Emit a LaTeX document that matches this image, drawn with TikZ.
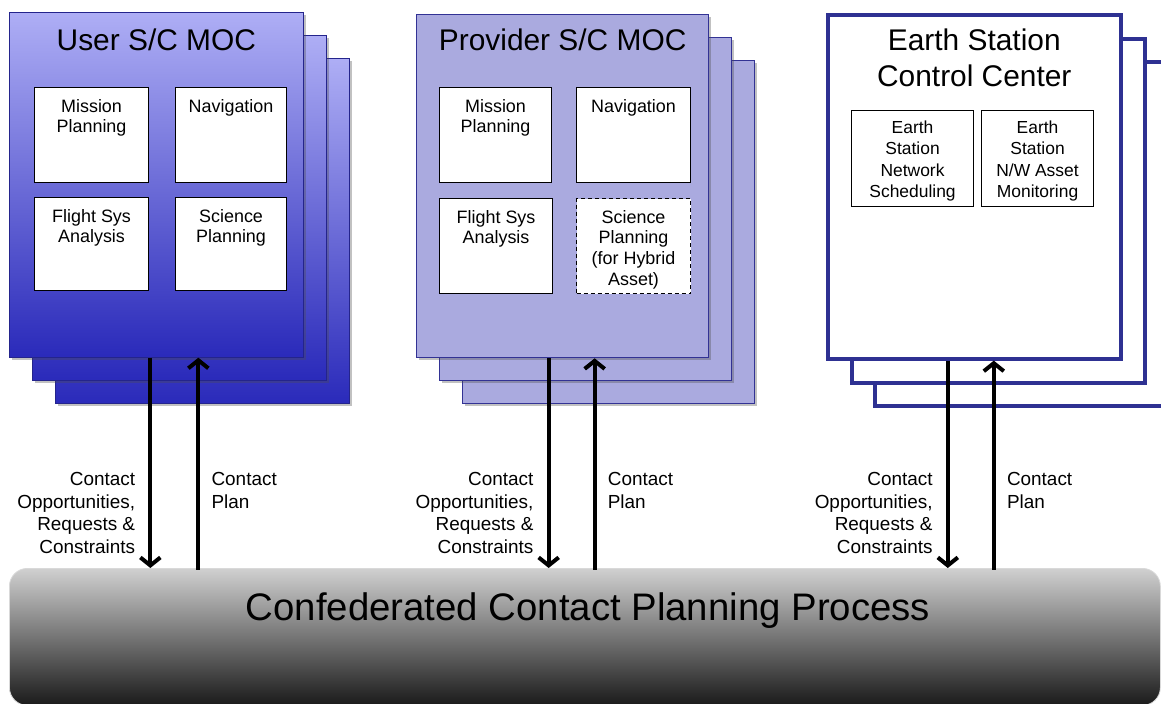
\documentclass[tikz,border=0pt]{standalone}
\usepackage{fontspec}
\setmainfont{Liberation Sans}
\usetikzlibrary{arrows.meta,shadows,calc}

\definecolor{usertop}{RGB}{174,174,245}
\definecolor{userbot}{RGB}{42,42,186}
\definecolor{userrim}{RGB}{36,36,140}
\definecolor{provfill}{RGB}{170,170,223}
\definecolor{provline}{RGB}{50,50,148}
\definecolor{esline}{RGB}{46,49,146}
\definecolor{bartop}{RGB}{208,208,208}
\definecolor{barmid}{RGB}{150,150,150}
\definecolor{barbot}{RGB}{26,26,26}

\begin{document}
\begin{tikzpicture}[x=1bp,y=-1bp,
  panelshadow/.style={drop shadow={shadow xshift=2.5bp,shadow yshift=-2.5bp,opacity=0.35,fill=black!70}},
  userpanel/.style={anchor=north west, inner sep=0, minimum width=294bp, minimum height=345bp,
    top color=usertop, bottom color=userbot, draw=userrim, line width=0.7bp, panelshadow},
  provpanel/.style={anchor=north west, inner sep=0, minimum width=292bp, minimum height=343bp,
    fill=provfill, draw=provline, line width=1.3bp, panelshadow},
  espanel/.style={anchor=north west, inner sep=0, minimum width=293bp, minimum height=344bp,
    fill=white, draw=esline, line width=3.6bp},
  ibox/.style={anchor=north west, inner sep=0, fill=white, draw=black, line width=1.1bp},
  dashbox/.style={ibox, dash pattern=on 4bp off 3bp},
  itext/.style={anchor=north, align=center, inner sep=0, font=\fontsize{18}{20.7}\selectfont},
  estext/.style={anchor=north, align=center, inner sep=0, font=\fontsize{17.5}{21.2}\selectfont},
  title/.style={anchor=base, align=center, inner sep=0, font=\fontsize{30}{37}\selectfont},
  lbl/.style={inner sep=0, font=\fontsize{19}{22.7}\selectfont},
  flow/.style={line width=4bp, -{Straight Barb[length=8bp,width=20bp]}},
  bar/.style={anchor=north west, inner sep=0, minimum width=1151bp, minimum height=137bp,
    rounded corners=18bp, top color=bartop, middle color=barmid, bottom color=barbot,
    draw=white!85!black, line width=0.8bp}
]
\useasboundingbox (0,0) rectangle (1161,704);

% ---------- User spacecraft MOC (stacked panels) ----------
\node[userpanel] (u3) at (55,58) {};
\node[userpanel] (u2) at (32,35) {};
\node[userpanel] (uMOC) at (9,12) {};
\node[title] at ([yshift=-39bp]uMOC.north) {User S/C MOC};

\node[ibox, minimum width=114bp, minimum height=95bp] (um) at (34,87) {};
\node[ibox, minimum width=111bp, minimum height=95bp] (un) at (175,87) {};
\node[ibox, minimum width=114bp, minimum height=93bp] (uf) at (34,197) {};
\node[ibox, minimum width=111bp, minimum height=93bp] (us) at (175,197) {};
\node[itext] at ([yshift=-12bp]um.north) {Mission\\Planning};
\node[itext] at ([yshift=-12bp]un.north) {Navigation};
\node[itext] at ([yshift=-12bp]uf.north) {Flight Sys\\Analysis};
\node[itext] at ([yshift=-12bp]us.north) {Science\\Planning};

% ---------- Provider spacecraft MOC ----------
\node[provpanel] (p3) at (462,60) {};
\node[provpanel] (p2) at (439,37) {};
\node[provpanel] (pMOC) at (416,14) {};
\node[title] at ([yshift=-37bp]pMOC.north) {Provider S/C MOC};

\node[ibox, minimum width=112bp, minimum height=95bp] (pm) at (439,87) {};
\node[ibox, minimum width=114bp, minimum height=95bp] (pn) at (576,87) {};
\node[ibox, minimum width=113bp, minimum height=95bp] (pf) at (439,198) {};
\node[dashbox, minimum width=114bp, minimum height=95bp] (ps) at (576,198) {};
\node[itext] at ([yshift=-12bp]pm.north) {Mission\\Planning};
\node[itext] at ([yshift=-12bp]pn.north) {Navigation};
\node[itext] at ([yshift=-12bp]pf.north) {Flight Sys\\Analysis};
\node[itext] at ([yshift=-12bp]ps.north) {Science\\Planning\\(for Hybrid\\Asset)};

% ---------- Earth station control center ----------
\node[espanel] (e3) at (873,60) {};
\node[espanel] (e2) at (850,37) {};
\node[espanel] (eCC) at (826,13) {};
% two-line title: the base anchor sits on the last line
\node[title] at ([yshift=-74bp]eCC.north) {Earth Station\\Control Center};

\node[ibox, minimum width=122bp, minimum height=96bp] (es) at (851,110) {};
\node[ibox, minimum width=112bp, minimum height=96bp] (ea) at (981,110) {};
\node[estext] at ([yshift=-11bp]es.north) {Earth\\Station\\Network\\Scheduling};
\node[estext] at ([yshift=-11bp]ea.north) {Earth\\Station\\N/W Asset\\Monitoring};

% ---------- Planning process bar ----------
\node[bar] (ccp) at (9,568) {};
\node[anchor=base, inner sep=0, font=\fontsize{38.5}{44}\selectfont]
  at ([xshift=3bp,yshift=-52bp]ccp.north) {Confederated Contact Planning Process};

% ---------- Exchanges between each centre and the process ----------
\coordinate (ud) at ([xshift=-6bp]uMOC.south);
\coordinate (uu) at ([xshift=42bp]uMOC.south);
\coordinate (pd) at ([xshift=-14bp]pMOC.south);
\coordinate (pu) at ([xshift=32bp]pMOC.south);
\coordinate (ed) at ([xshift=-26.5bp]eCC.south);
\coordinate (eu) at ([xshift=19.5bp]eCC.south);

\foreach \d/\u in {ud/uu, pd/pu, ed/eu}{
  \draw[flow] (\d) -- (\d |- ccp.north);
  \draw[flow] ([yshift=-1.5bp]\u |- ccp.north) -- (\u);
  \node[lbl, anchor=north east, align=right] at ([xshift=-15bp]\d |- 0,472)
    {Contact\\Opportunities,\\Requests \&\\Constraints};
  \node[lbl, anchor=north west, align=left] at ([xshift=13bp]\u |- 0,472)
    {Contact\\Plan};
}
\end{tikzpicture}
\end{document}
